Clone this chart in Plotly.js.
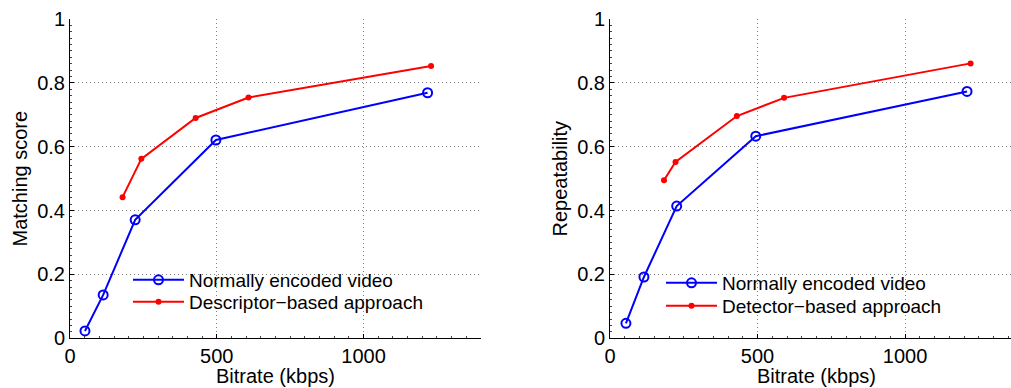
<!DOCTYPE html>
<html>
<head>
<meta charset="utf-8">
<script src="https://cdn.plot.ly/plotly-3.0.1.min.js"></script>
<style>html,body{margin:0;padding:0;background:#fff}#chart{width:1011px;height:388px}</style>
</head>
<body>
<div id="chart"></div>
<script>
// Left panel: matching score
const leftNormalX = [51, 113, 222, 497, 1218];
const leftNormalY = [0.023, 0.136, 0.371, 0.621, 0.769];
const leftDescX = [179, 243, 428, 608, 1230];
const leftDescY = [0.442, 0.562, 0.690, 0.754, 0.853];
// Right panel: repeatability
const rightNormalX = [54, 115, 226, 494, 1210];
const rightNormalY = [0.047, 0.192, 0.414, 0.633, 0.773];
const rightDetX = [183, 222, 430, 590, 1222];
const rightDetY = [0.495, 0.552, 0.696, 0.753, 0.861];

const seriesNames = ["Normally encoded video", "Descriptor\u2212based approach", "Detector\u2212based approach"];
const xTicks = [0, 500, 1000];
const yTicks = [0, 0.2, 0.4, 0.6, 0.8, 1];
const yTickText = ["0", "0.2", "0.4", "0.6", "0.8", "1"];
const xTitle = "Bitrate (kbps)";
const yTitles = ["Matching score", "Repeatability"];

const FONT = "Liberation Sans, Arial, Helvetica, sans-serif";
const blueLine = {color: "#0000ff", width: 2};
const redLine = {color: "#ff0000", width: 2};
const blueMarker = {symbol: "circle-open", size: 9, color: "#0000ff", line: {width: 2, color: "#0000ff"}};
const redMarker = {symbol: "circle", size: 6, color: "#ff0000"};

const traces = [
  {x: leftNormalX, y: leftNormalY, xaxis: "x", yaxis: "y", mode: "lines+markers", name: seriesNames[0], line: blueLine, marker: blueMarker, legend: "legend"},
  {x: leftDescX, y: leftDescY, xaxis: "x", yaxis: "y", mode: "lines+markers", name: seriesNames[1], line: redLine, marker: redMarker, legend: "legend2"},
  {x: rightNormalX, y: rightNormalY, xaxis: "x2", yaxis: "y2", mode: "lines+markers", name: seriesNames[0], line: blueLine, marker: blueMarker, legend: "legend3"},
  {x: rightDetX, y: rightDetY, xaxis: "x2", yaxis: "y2", mode: "lines+markers", name: seriesNames[2], line: redLine, marker: redMarker, legend: "legend4"}
];

const GRID = {showgrid: true, gridcolor: "#808080", griddash: "1px,3px", gridwidth: 1};
function xAxis(domain, range, anchor) {
  return Object.assign({
    domain: domain, range: range, anchor: anchor,
    tickvals: xTicks, ticktext: xTicks.map(String),
    ticks: "inside", ticklen: 4, tickcolor: "#000",
    minor: {ticks: "inside", ticklen: 2, dtick: 50, tickcolor: "#444", showgrid: false},
    showline: true, linecolor: "#000", linewidth: 1,
    zeroline: false,
    tickfont: {family: FONT, size: 20, color: "#000"},
    automargin: false
  }, GRID);
}
function yAxis(domain, anchor) {
  return Object.assign({
    domain: domain, range: [0, 1], anchor: anchor,
    tickvals: yTicks, ticktext: yTickText,
    ticks: "inside", ticklen: 4, tickcolor: "#000",
    minor: {ticks: "inside", ticklen: 2, dtick: 0.02, tickcolor: "#444", showgrid: false},
    showline: true, linecolor: "#000", linewidth: 1,
    zeroline: false,
    tickfont: {family: FONT, size: 20, color: "#000"},
    automargin: false
  }, GRID);
}
function legendAt(px, py) {
  return {x: px / 1011, y: 1 - py / 388, xanchor: "left", yanchor: "middle", bgcolor: "rgba(0,0,0,0)", borderwidth: 0,
    font: {family: FONT, size: 19, color: "#000"}, itemwidth: 51, tracegroupgap: 0};
}
const titleFont = {family: FONT, size: 20, color: "#000"};
function titleAt(text, px, py, angle) {
  return {text: text, xref: "paper", yref: "paper", x: px / 1011, y: 1 - py / 388, xanchor: "center", yanchor: "middle",
    textangle: angle, showarrow: false, font: titleFont};
}

const yDom = [49.7 / 388, 369 / 388];
const layout = {
  width: 1011, height: 388,
  margin: {l: 0, r: 0, t: 0, b: 0},
  paper_bgcolor: "#fff", plot_bgcolor: "#fff",
  font: {family: FONT, color: "#000"},
  xaxis: xAxis([70 / 1011, 481 / 1011], [0, 1400], "y"),
  yaxis: yAxis(yDom, "x"),
  xaxis2: xAxis([610 / 1011, 1], [0, 1359], "y2"),
  yaxis2: yAxis(yDom, "x2"),
  legend: legendAt(128, 280),
  legend2: legendAt(128, 302),
  legend3: legendAt(661, 283),
  legend4: legendAt(661, 306),
  showlegend: true,
  annotations: [
    titleAt(yTitles[0], 20, 178.5, -90),
    titleAt(yTitles[1], 560, 178.5, -90),
    titleAt(xTitle, 275.5, 376, 0),
    titleAt(xTitle, 816, 376, 0)
  ]
};

Plotly.newPlot("chart", traces, layout, {staticPlot: true, displayModeBar: false});
</script>
</body>
</html>
